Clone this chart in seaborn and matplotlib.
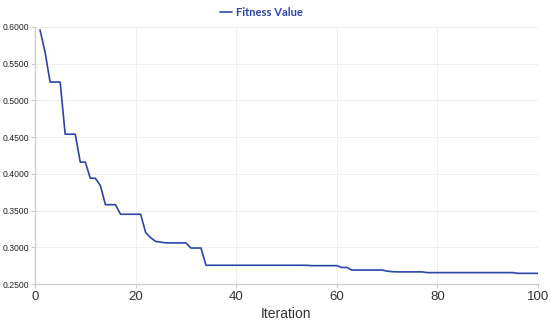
import numpy as np
import pandas as pd
import matplotlib
matplotlib.use("Agg")
import matplotlib.pyplot as plt
import matplotlib.transforms as mtransforms
import seaborn as sns

iterations = list(range(1, 101))
fitness = (
    [0.596, 0.566, 0.525, 0.525, 0.525, 0.454, 0.454, 0.454, 0.416, 0.416,
     0.394, 0.394, 0.384, 0.358, 0.358, 0.358, 0.345, 0.345, 0.345, 0.345,
     0.345, 0.320, 0.313, 0.308, 0.307, 0.306, 0.306, 0.306, 0.306, 0.306,
     0.299, 0.299, 0.299]
    + [0.2755] * 21          # 34..54
    + [0.2750] * 6           # 55..60
    + [0.2725, 0.2725]       # 61..62
    + [0.2690] * 7           # 63..69
    + [0.2675, 0.2668]       # 70..71
    + [0.2665] * 6           # 72..77
    + [0.2655] * 18          # 78..95
    + [0.2645] * 5           # 96..100
)
series_name = "Fitness Value"
x_label = "Iteration"
y_ticks = [0.25, 0.30, 0.35, 0.40, 0.45, 0.50, 0.55, 0.60]
x_ticks = [0, 20, 40, 60, 80, 100]

df = pd.DataFrame({"Iteration": iterations, "Fitness": fitness})

sns.set_theme(style="white")
plt.rcParams["font.family"] = ["Liberation Sans", "DejaVu Sans"]

fig = plt.figure(figsize=(5.5, 3.25), dpi=100)
ax = fig.add_axes([35 / 550, 1 - 284 / 325, (538 - 35) / 550, (284 - 27) / 325])

color = "#2b45a8"
sns.lineplot(data=df, x="Iteration", y="Fitness", ax=ax, color=color,
             linewidth=1.2, label=series_name)

ax.set_xlim(0, 100)
ax.set_ylim(0.25, 0.60)
ax.set_xticks(x_ticks)
ax.set_yticks(y_ticks)
ax.set_yticklabels([f"{v:.4f}" for v in y_ticks], fontsize=6.2, color="#222222")
ax.set_xticklabels([str(v) for v in x_ticks], fontsize=9.5, color="#333333")
offset = mtransforms.ScaledTranslation(-6 / 100, 0, fig.dpi_scale_trans)
for lbl in ax.get_xticklabels():
    lbl.set_transform(lbl.get_transform() + offset)

ax.set_xlabel(x_label, fontsize=10, color="#333333", labelpad=3)
ax.set_ylabel("")

ax.grid(True, color="#eeeeee", linewidth=0.7)
for s in ["top", "right"]:
    ax.spines[s].set_visible(False)
for s in ["left", "bottom"]:
    ax.spines[s].set_color("#cccccc")
    ax.spines[s].set_linewidth(1.0)
ax.tick_params(axis="both", which="both", length=3, width=0.8, color="#cccccc",
               left=True, bottom=True)
ax.tick_params(axis="y", pad=1)
ax.tick_params(axis="x", pad=2)

leg = ax.legend(loc="center", bbox_to_anchor=(261 / 550, 1 - 12 / 325),
                bbox_transform=fig.transFigure, frameon=False,
                handlelength=1.1, handletextpad=0.35, borderaxespad=0,
                prop={"family": ["Lato", "DejaVu Sans"], "weight": "bold", "size": 8})
for t in leg.get_texts():
    t.set_color(color)

fig.savefig("out.png", dpi=100)
